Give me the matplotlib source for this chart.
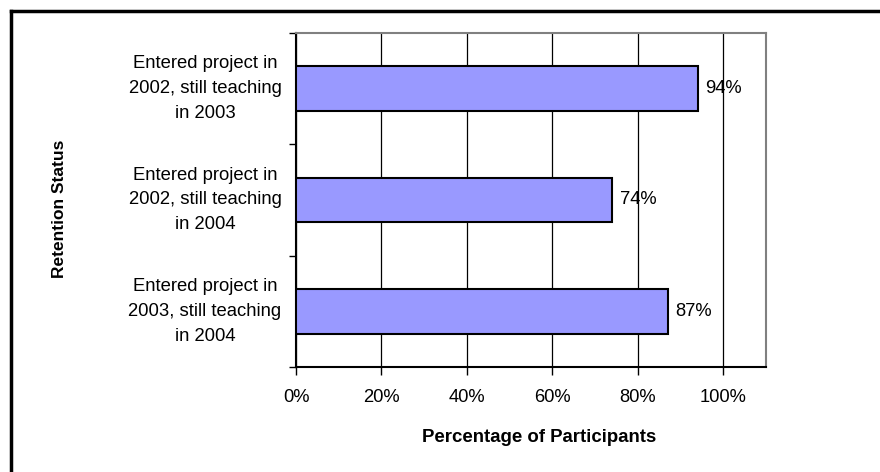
import numpy as np
import matplotlib
matplotlib.use("Agg")
import matplotlib.pyplot as plt

plt.rcParams['font.family'] = ['Liberation Sans', 'DejaVu Sans']

categories = ["Entered project in\n2002, still teaching\nin 2003",
              "Entered project in\n2002, still teaching\nin 2004",
              "Entered project in\n2003, still teaching\nin 2004"]
values = [94, 74, 87]
xticks = [0, 20, 40, 60, 80, 100]

fig = plt.figure(figsize=(8.8, 4.72), dpi=100)
ax = fig.add_axes([296/880, 1 - 367/472, 470/880, 334/472])

y = np.arange(len(categories))
ax.barh(y, values, height=0.4, color="#9999FF", edgecolor="black", linewidth=1.5, zorder=3)
for yi, v in zip(y, values):
    ax.text(v + 1.8, yi, f"{v}%", va="center", ha="left", fontsize=13.2, zorder=4)

ax.set_xlim(0, 110)
ax.set_ylim(len(categories) - 0.5, -0.5)
ax.set_xticks(xticks)
ax.set_xticklabels([f"{t}%" for t in xticks], fontsize=13.2)
ax.xaxis.grid(True, color="black", linewidth=0.9, zorder=0)
ax.tick_params(axis="x", length=6, width=1, pad=10, color="black")

# boundaries as ticks, category text on minor ticks
ax.set_yticks(np.arange(-0.5, len(categories), 1.0))
ax.set_yticklabels([])
ax.tick_params(axis="y", which="major", length=5, width=1)
ax.set_yticks(y, minor=True)
ax.set_yticklabels(categories, minor=True, fontsize=13.3, ha="center", va="center", linespacing=1.6)
ax.tick_params(axis="y", which="minor", length=0, pad=65.5)

for s in ["left", "bottom"]:
    ax.spines[s].set_color("black")
    ax.spines[s].set_linewidth(1.5)
for s in ["top", "right"]:
    ax.spines[s].set_color("#808080")
    ax.spines[s].set_linewidth(1.5)

fig.text(539/880, 1 - 437/472, "Percentage of Participants", fontsize=13.4,
         fontweight="bold", ha="center", va="center")
fig.text(60/880, 1 - 209/472, "Retention Status", rotation=90, fontsize=12.5,
         fontweight="bold", ha="center", va="center")

# chart frame (only left and top edge visible)
fig.add_artist(plt.Line2D([11/880, 11/880], [0, 1 - 11/472], transform=fig.transFigure, color="black", linewidth=2.5))
fig.add_artist(plt.Line2D([11/880, 1], [1 - 11/472, 1 - 11/472], transform=fig.transFigure, color="black", linewidth=2.5))

fig.savefig("out.png", dpi=100)
